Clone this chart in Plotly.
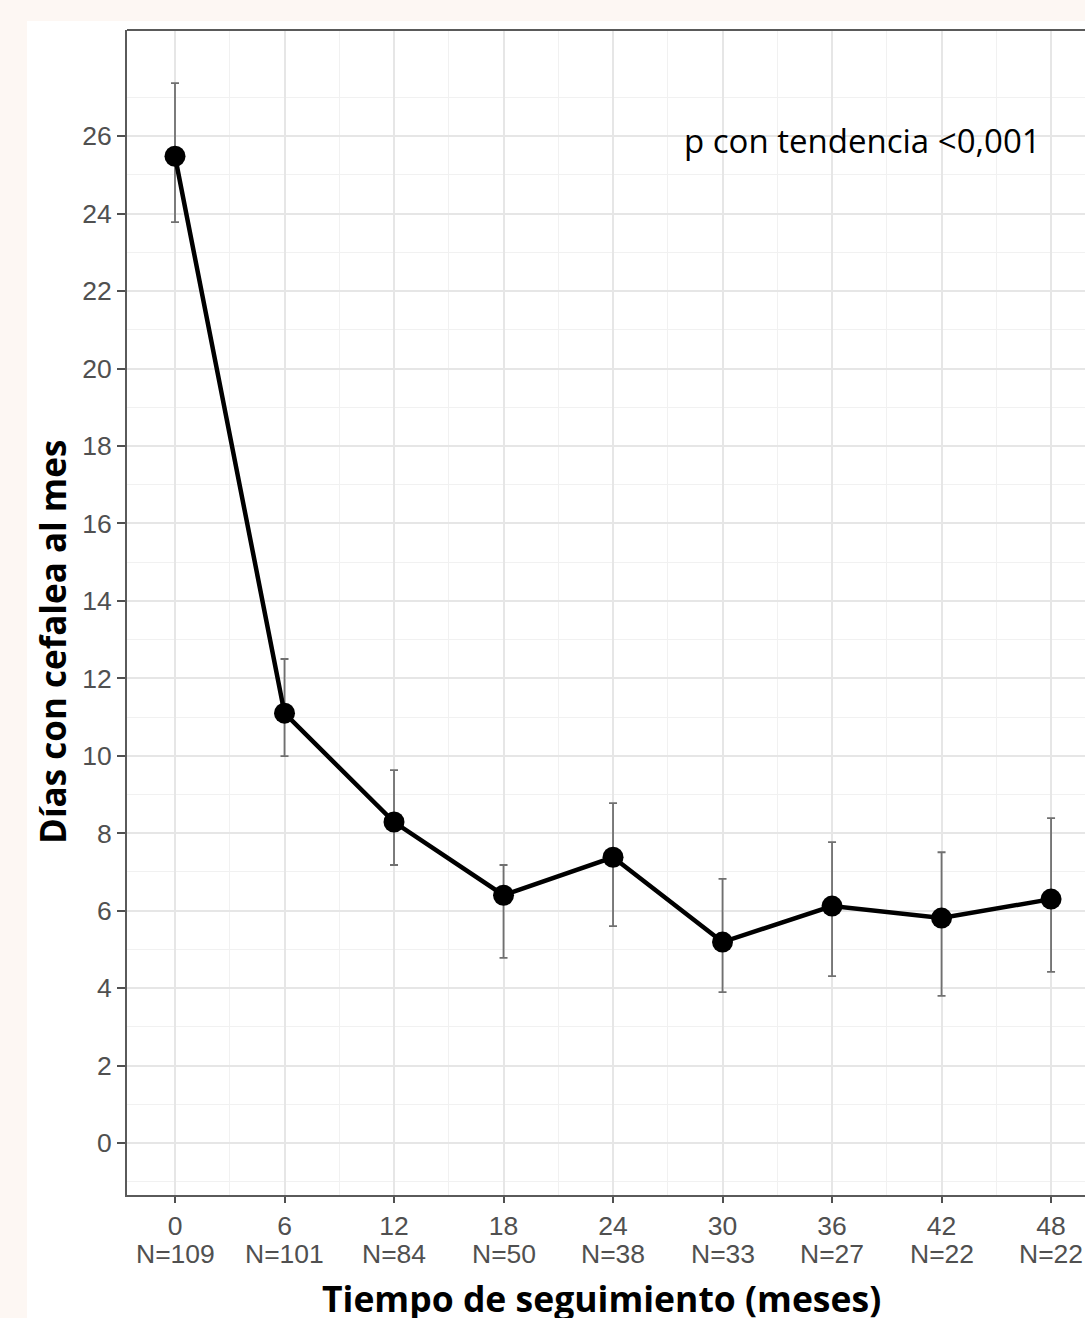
import plotly.graph_objects as go

months = [0, 6, 12, 18, 24, 30, 36, 42, 48]
n_labels = ["N=109", "N=101", "N=84", "N=50", "N=38", "N=33", "N=27", "N=22", "N=22"]
mean_days = [25.48, 11.10, 8.29, 6.40, 7.38, 5.19, 6.12, 5.81, 6.30]
upper = [27.37, 12.50, 9.63, 7.18, 8.78, 6.82, 7.77, 7.51, 8.39]
lower = [23.78, 9.99, 7.18, 4.78, 5.60, 3.90, 4.31, 3.80, 4.42]
y_ticks = list(range(0, 27, 2))

err_plus = [u - m for u, m in zip(upper, mean_days)]
err_minus = [m - l for m, l in zip(mean_days, lower)]

W, H = 1085, 1318
L, R, T, B = 127, 0, 30, 123
pw = W - L - R
ph = H - T - B

TICK_FONT = dict(family="Liberation Sans, Arial", size=26.5, color="#505050")

fig = go.Figure()
fig.add_trace(go.Scatter(
    x=months, y=mean_days, mode="lines+markers",
    line=dict(color="black", width=4.5),
    marker=dict(color="black", size=21),
    error_y=dict(type="data", symmetric=False, array=err_plus, arrayminus=err_minus,
                 color="#707070", thickness=1.8, width=4),
    showlegend=False,
))

def px2paper_x(p):
    return (p - L) / pw

def px2paper_y(p):
    return (H - B - p) / ph

# white panel on peach background
fig.add_shape(type="rect", xref="paper", yref="paper",
              x0=px2paper_x(27), x1=1.2, y0=-0.3, y1=px2paper_y(21),
              fillcolor="white", line=dict(width=0), layer="below")
# top border of panel
fig.add_shape(type="line", xref="paper", yref="paper", x0=0, x1=1, y0=1, y1=1,
              line=dict(color="#5a5a5a", width=1.8))

# second line of x tick labels (sample sizes)
for m, n in zip(months, n_labels):
    fig.add_annotation(text=n, x=m, xref="x", y=px2paper_y(1254), yref="paper",
                       showarrow=False, xanchor="center", yanchor="middle",
                       font=TICK_FONT)

fig.add_annotation(text="p con tendencia <0,001", xref="paper", yref="paper",
                   x=px2paper_x(862), y=px2paper_y(140), showarrow=False,
                   xanchor="center", yanchor="middle",
                   font=dict(family="Open Sans", size=33, color="black"))

fig.add_annotation(text="<b>Días con cefalea al mes</b>", xref="paper", yref="paper",
                   x=px2paper_x(52), y=px2paper_y(642), textangle=-90, showarrow=False,
                   xanchor="center", yanchor="middle",
                   font=dict(family="Open Sans", size=35, color="black"))

fig.add_annotation(text="<b>Tiempo de seguimiento (meses)</b>", xref="paper", yref="paper",
                   x=px2paper_x(601), y=px2paper_y(1298), showarrow=False,
                   xanchor="center", yanchor="middle",
                   font=dict(family="Open Sans", size=35.5, color="black"))

fig.update_layout(
    width=W, height=H,
    margin=dict(l=L, r=R, t=T, b=B),
    paper_bgcolor="#fdf7f3",
    plot_bgcolor="white",
    xaxis=dict(
        range=[-2.63, 49.86],
        tickvals=months, ticktext=[str(m) for m in months],
        tickfont=TICK_FONT,
        ticks="outside", ticklen=6, tickwidth=1.8, tickcolor="#505050",
        showline=True, linecolor="#5a5a5a", linewidth=1.8,
        showgrid=True, gridcolor="#e6e6e6", gridwidth=1.8,
        minor=dict(dtick=3, tick0=3, showgrid=True, gridcolor="#f1f1f1", gridwidth=1.2),
        zeroline=False,
    ),
    yaxis=dict(
        range=[-1.34, 28.74],
        tickvals=y_ticks,
        tickfont=TICK_FONT,
        ticks="outside", ticklen=8, tickwidth=1.8, tickcolor="#505050",
        showline=True, linecolor="#5a5a5a", linewidth=1.8,
        showgrid=True, gridcolor="#e6e6e6", gridwidth=1.8,
        minor=dict(dtick=2, tick0=1, showgrid=True, gridcolor="#f1f1f1", gridwidth=1.2),
        zeroline=False,
    ),
)

fig.write_html("out.html", config={"displayModeBar": False},
               post_script="document.body.style.margin='0';document.body.style.background='#fdf7f3';")
